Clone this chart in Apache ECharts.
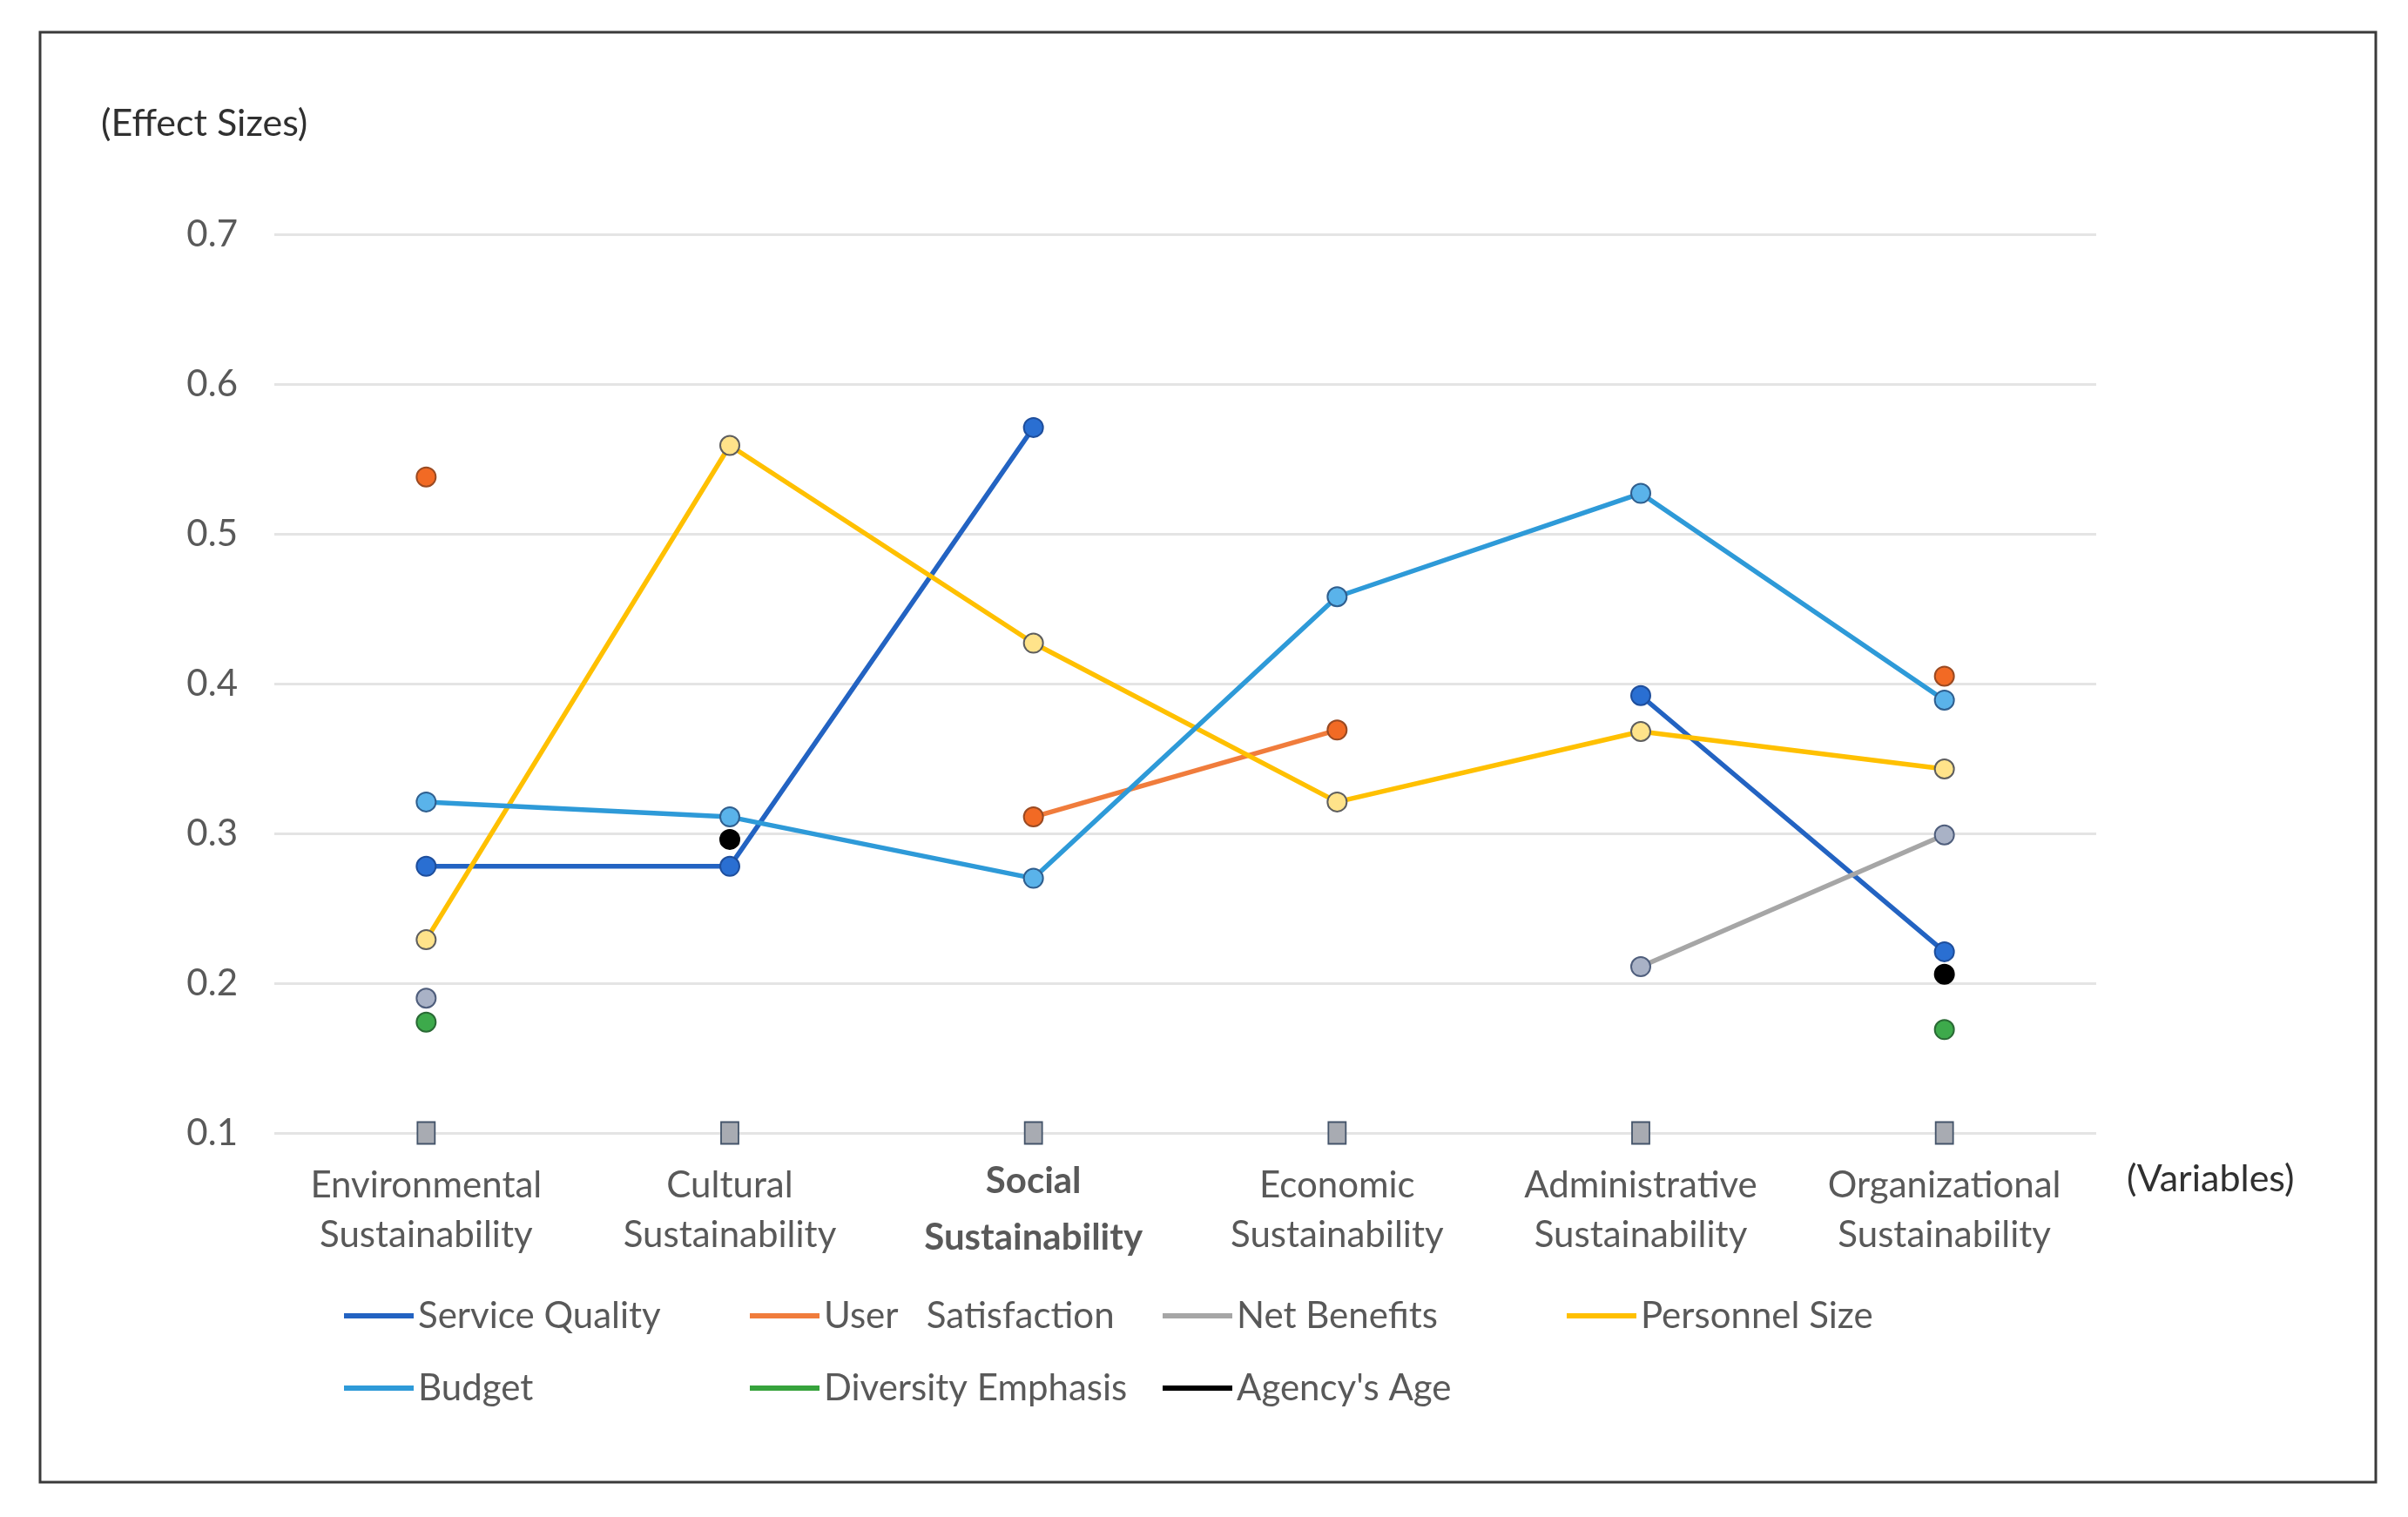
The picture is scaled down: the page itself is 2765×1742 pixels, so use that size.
<!DOCTYPE html>
<html>
<head>
<meta charset="utf-8">
<style>
html,body{margin:0;padding:0;background:#ffffff;}
#chart{width:2765px;height:1742px;}
</style>
<script src="https://cdn.jsdelivr.net/npm/echarts@6/dist/echarts.min.js"></script>
</head>
<body>
<div id="chart"></div>
<script>
const categories = ['Environmental\nSustainability', 'Cultural\nSustainability', 'Social\nSustainability', 'Economic\nSustainability', 'Administrative\nSustainability', 'Organizational\nSustainability'];
const serviceQuality = [0.278, 0.278, 0.571, null, 0.392, 0.221];
const userSatisfaction = [0.538, null, 0.311, 0.369, null, 0.405];
const netBenefits = [0.190, null, null, null, 0.211, 0.299];
const personnelSize = [0.229, 0.559, 0.427, 0.321, 0.368, 0.343];
const budget = [0.321, 0.311, 0.270, 0.458, 0.527, 0.389];
const diversityEmphasis = [0.174, null, null, null, null, 0.169];
const agencysAge = [null, 0.296, null, null, null, 0.206];
const baseline = [0.1, 0.1, 0.1, 0.1, 0.1, 0.1];
const yTickLabels = ['0.1', '0.2', '0.3', '0.4', '0.5', '0.6', '0.7'];
const seriesNames = ['Service Quality', 'User   Satisfaction', 'Net Benefits', 'Personnel Size', 'Budget', 'Diversity Emphasis', "Agency's Age"];

const FONT = 'Lato, "Open Sans", sans-serif';
const lineColors = ['#2363C2', '#F07C3C', '#A6A6A6', '#FFC000', '#2E9AD8', '#36A33C', '#000000'];
const markerFill = ['#2A6FD2', '#F26A24', '#A9B2C6', '#FFE38A', '#5AB3EA', '#3DAA4B', '#000000'];
const markerBorder = ['#1E4E9C', '#9A4A22', '#4F5E7C', '#5E5E5E', '#2F5F8F', '#2A6A35', '#000000'];
const seriesData = [serviceQuality, userSatisfaction, netBenefits, personnelSize, budget, diversityEmphasis, agencysAge];

const series = seriesData.map((d, i) => ({
  name: seriesNames[i],
  type: 'line',
  data: d,
  connectNulls: false,
  symbol: 'circle',
  symbolSize: 22,
  showSymbol: true,
  showAllSymbol: true,
  lineStyle: { color: lineColors[i], width: 5.5 },
  itemStyle: { color: markerFill[i], borderColor: markerBorder[i], borderWidth: 2 },
  emphasis: { disabled: true }
}));
series.unshift({
  name: 'baseline',
  type: 'line',
  data: baseline,
  symbol: 'rect',
  symbolSize: [20, 25],
  lineStyle: { width: 0, opacity: 0 },
  itemStyle: { color: '#A8ABB2', borderColor: '#44546A', borderWidth: 2 },
  emphasis: { disabled: true },
  z: 1
});

const legendCols = [395, 861, 1335, 1799];
const legendRows = [1486, 1569];
const legendPlacement = [[0,0],[1,0],[2,0],[3,0],[0,1],[1,1],[2,1]];
const legends = seriesNames.map((n, i) => ({
  data: [{ name: n, itemStyle: { color: lineColors[i], borderWidth: 0 } }],
  left: legendCols[legendPlacement[i][0]],
  top: legendRows[legendPlacement[i][1]],
  padding: 0,
  icon: 'rect',
  itemWidth: 80,
  itemHeight: 6,
  selectedMode: false,
  textStyle: { fontFamily: FONT, fontSize: 42, color: '#595959', lineHeight: 50 }
}));

const chart = echarts.init(document.getElementById('chart'), null, { renderer: 'canvas' });
chart.setOption({
  backgroundColor: '#ffffff',
  animation: false,
  grid: { left: 315, right: 358, top: 269, bottom: 441, containLabel: false },
  xAxis: {
    type: 'category',
    data: categories,
    boundaryGap: true,
    axisLine: { show: false },
    axisTick: { show: false },
    axisLabel: {
      interval: 0,
      margin: 32,
      fontFamily: FONT,
      fontSize: 42,
      color: '#595959',
      lineHeight: 57,
      formatter: function (v) {
        if (v.indexOf('Social') === 0) {
          const parts = v.split('\n');
          return '{b1|' + parts[0] + '}\n{b2|' + parts[1] + '}';
        }
        return v;
      },
      rich: {
        b1: { fontFamily: FONT, fontSize: 42, fontWeight: 'bold', color: '#595959', lineHeight: 47 },
        b2: { fontFamily: FONT, fontSize: 42, fontWeight: 'bold', color: '#595959', lineHeight: 83 }
      }
    }
  },
  yAxis: {
    type: 'value',
    min: 0.1,
    max: 0.7,
    interval: 0.1,
    axisLine: { show: false },
    axisTick: { show: false },
    splitLine: { lineStyle: { color: '#E4E4E4', width: 3 } },
    axisLabel: {
      margin: 42,
      fontFamily: FONT,
      fontSize: 42,
      color: '#595959',
      formatter: function (v) {
        const idx = Math.round((v - 0.1) * 10);
        return yTickLabels[idx] !== undefined ? yTickLabels[idx] : '';
      }
    }
  },
  legend: legends,
  series: series,
  graphic: [
    {
      type: 'rect',
      shape: { x: 46, y: 37, width: 2682, height: 1665 },
      style: { fill: 'none', stroke: '#3A3A3A', lineWidth: 3 },
      silent: true,
      z: 100
    },
    {
      type: 'text',
      left: 116,
      top: 121,
      style: { text: '(Effect Sizes)', fontFamily: FONT, fontSize: 43, fill: '#303030' }
    },
    {
      type: 'text',
      left: 2442,
      top: 1333,
      style: { text: '(Variables)', fontFamily: FONT, fontSize: 43, fill: '#303030' }
    }
  ]
});
</script>
</body>
</html>
